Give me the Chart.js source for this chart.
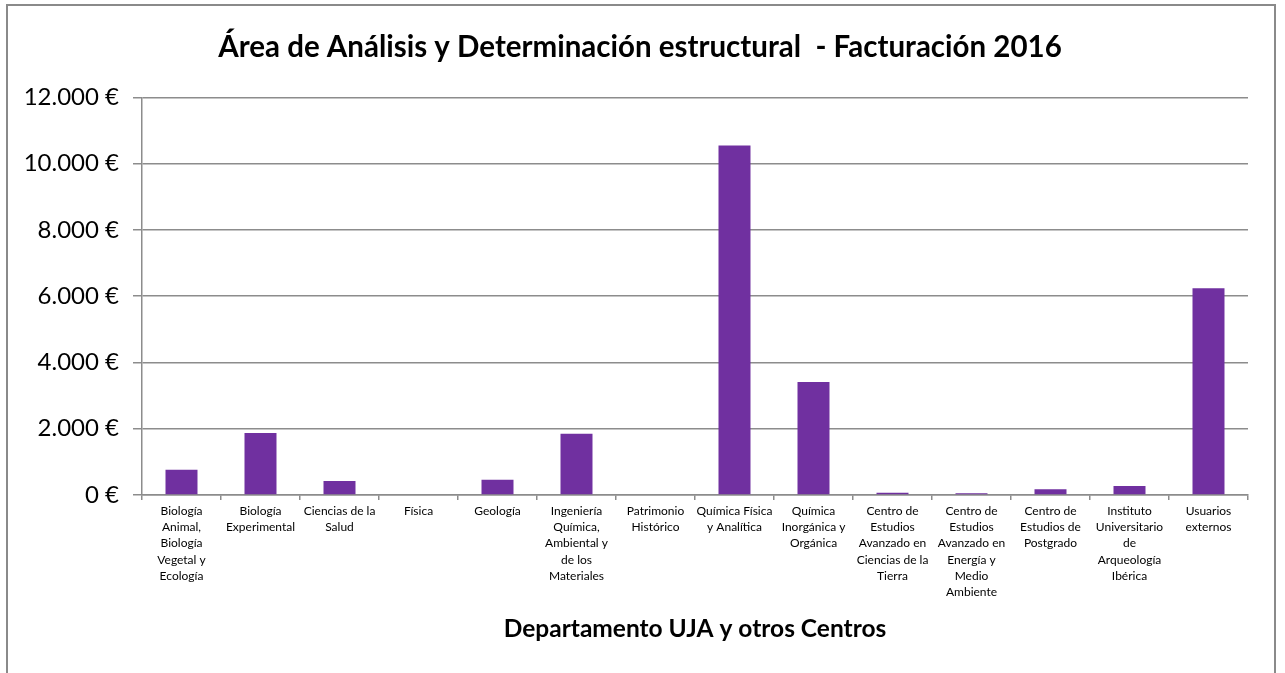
<!DOCTYPE html>
<html>
<head>
<meta charset="utf-8">
<script src="https://cdn.jsdelivr.net/npm/chart.js@4/dist/chart.umd.min.js"></script>
<style>
  html, body { margin: 0; padding: 0; background: #fff; overflow: hidden; }
  #wrap { position: relative; width: 1285px; height: 673px; }
  #frame { position: absolute; left: 6px; top: 4px; width: 1270px; height: 700px; border: 2px solid #8a8a8a; box-sizing: border-box; }
  canvas { position: absolute; left: 0; top: 0; }
</style>
</head>
<body>
<div id="wrap">
  <div id="frame"></div>
  <canvas id="c" width="1285" height="673"></canvas>
</div>
<script>
const titleText = 'Área de Análisis y Determinación estructural  - Facturación 2016';
const xTitle = 'Departamento UJA y otros Centros';
const categories = [
  ['Biología', 'Animal,', 'Biología', 'Vegetal y', 'Ecología'],
  ['Biología', 'Experimental'],
  ['Ciencias de la', 'Salud'],
  ['Física'],
  ['Geología'],
  ['Ingeniería', 'Química,', 'Ambiental y', 'de los', 'Materiales'],
  ['Patrimonio', 'Histórico'],
  ['Química Física', 'y Analítica'],
  ['Química', 'Inorgánica y', 'Orgánica'],
  ['Centro de', 'Estudios', 'Avanzado en', 'Ciencias de la', 'Tierra'],
  ['Centro de', 'Estudios', 'Avanzado en', 'Energía y', 'Medio', 'Ambiente'],
  ['Centro de', 'Estudios de', 'Postgrado'],
  ['Instituto', 'Universitario', 'de', 'Arqueología', 'Ibérica'],
  ['Usuarios', 'externos']
];
const facturacion = [760, 1870, 420, 0, 460, 1850, 0, 10550, 3410, 70, 50, 170, 270, 6240];
const yTicks = [0, 2000, 4000, 6000, 8000, 10000, 12000];

const FONT = 'Lato, "Open Sans", sans-serif';
const GRID = '#8c8c8c';

function fmtEuro(v) {
  return String(v).replace(/\B(?=(\d{3})+(?!\d))/g, '.') + ' €';
}

new Chart(document.getElementById('c'), {
  type: 'bar',
  data: {
    labels: categories,
    datasets: [{
      data: facturacion,
      backgroundColor: '#7030A0',
      borderWidth: 0,
      barPercentage: 0.405,
      categoryPercentage: 1.0
    }]
  },
  options: {
    responsive: false,
    devicePixelRatio: 1,
    animation: false,
    layout: { padding: { left: 0, right: 5, top: 30, bottom: 0 } },
    plugins: {
      legend: { display: false },
      tooltip: { enabled: false },
      title: {
        display: true,
        text: titleText,
        color: '#000',
        font: { family: FONT, size: 29.5, weight: 'bold', lineHeight: 1.2 },
        padding: { top: 0, bottom: 32 }
      }
    },
    scales: {
      y: {
        min: 0,
        max: 12000,
        afterBuildTicks: s => { s.ticks = yTicks.map(v => ({ value: v })); },
        afterFit: s => { s.width = 142; },
        ticks: {
          color: '#000',
          font: { family: FONT, size: 24 },
          padding: 14,
          callback: v => fmtEuro(v)
        },
        grid: { color: GRID, lineWidth: 1.5, tickLength: 9, drawTicks: true },
        border: { color: GRID, width: 1.5 }
      },
      spacer: {
        type: 'linear',
        position: 'right',
        display: true,
        afterFit: s => { s.width = 32; },
        ticks: { display: false },
        grid: { display: false, drawTicks: false },
        border: { display: false }
      },
      x: {
        afterFit: s => { s.height = 178; },
        ticks: {
          color: '#000',
          font: { family: FONT, size: 12, lineHeight: 1.35 },
          maxRotation: 0,
          autoSkip: false,
          padding: 3
        },
        grid: { drawOnChartArea: false, color: GRID, lineWidth: 1.5, tickLength: 5, offset: true },
        border: { color: GRID, width: 1.5 },
        title: {
          display: true,
          text: xTitle,
          color: '#000',
          font: { family: FONT, size: 24.5, weight: 'bold', lineHeight: 1.2 },
          padding: { top: 0, bottom: 29 }
        }
      }
    }
  }
});
</script>
</body>
</html>
